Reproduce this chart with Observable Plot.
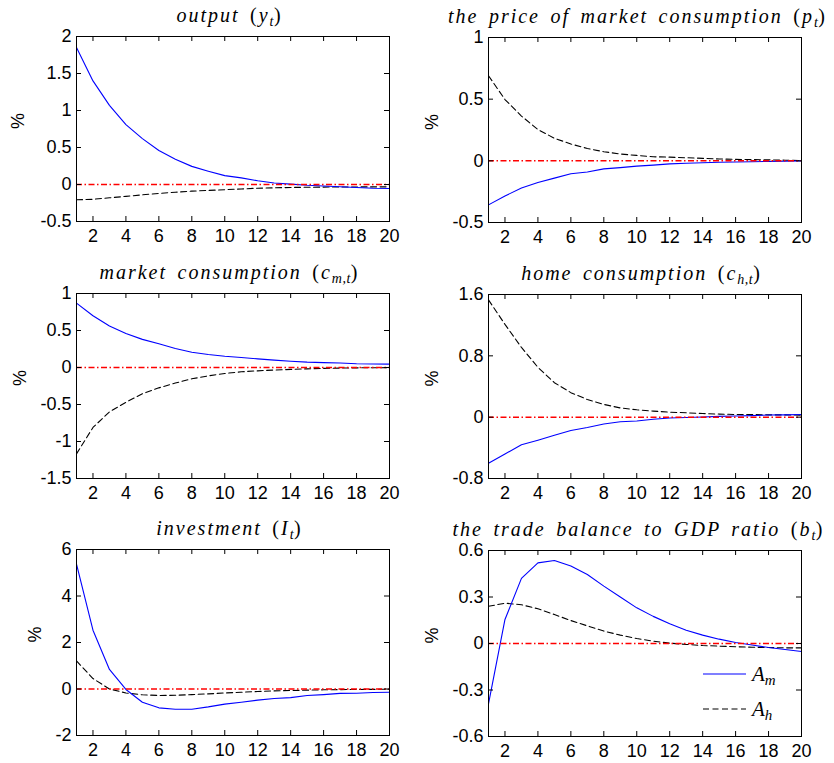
<!DOCTYPE html>
<html><head><meta charset="utf-8">
<script src="https://cdn.jsdelivr.net/npm/d3@7"></script>
<script src="https://cdn.jsdelivr.net/npm/@observablehq/plot@0.6"></script>
<style>
body{margin:0;background:#fff;}
#wrap{position:relative;width:834px;height:763px;overflow:hidden;background:#fff;}
.panel{position:absolute;}
.title{position:absolute;font-family:"Liberation Serif",serif;font-style:italic;font-size:20px;line-height:20px;white-space:nowrap;transform:translateX(-50%);letter-spacing:2.0px;word-spacing:3.5px;color:#000;}
.title .up{font-style:normal;}
.title sub{font-size:0.7em;vertical-align:-0.3em;line-height:0;letter-spacing:0.5px;}
.legend{position:absolute;}
</style></head><body><div id="wrap"></div>
<script>
const periods = [1,2,3,4,5,6,7,8,9,10,11,12,13,14,15,16,17,18,19,20];
const xTicks = [2,4,6,8,10,12,14,16,18,20];

// output (y_t)
const outputAm = [1.85,1.40,1.07,0.81,0.62,0.46,0.34,0.245,0.18,0.12,0.09,0.05,0.02,0.005,-0.01,-0.02,-0.03,-0.04,-0.05,-0.055];
const outputAh = [-0.207,-0.20,-0.18,-0.16,-0.14,-0.12,-0.105,-0.09,-0.08,-0.07,-0.06,-0.05,-0.045,-0.04,-0.037,-0.035,-0.034,-0.033,-0.032,-0.032];
// price of market consumption (p_t)
const priceAm = [-0.357,-0.285,-0.22,-0.175,-0.14,-0.105,-0.09,-0.065,-0.055,-0.043,-0.035,-0.025,-0.02,-0.015,-0.012,-0.01,-0.007,-0.005,-0.003,0];
const priceAh = [0.69,0.497,0.363,0.254,0.183,0.137,0.10,0.074,0.055,0.044,0.033,0.03,0.025,0.02,0.015,0.012,0.01,0.008,0.005,0.002];
// market consumption (c_{m,t})
const cmAm = [0.87,0.70,0.56,0.46,0.38,0.32,0.257,0.207,0.176,0.153,0.135,0.117,0.10,0.085,0.072,0.066,0.06,0.05,0.048,0.045];
const cmAh = [-1.167,-0.81,-0.60,-0.47,-0.356,-0.275,-0.21,-0.153,-0.113,-0.081,-0.058,-0.045,-0.034,-0.026,-0.018,-0.012,-0.008,-0.005,-0.003,-0.002];
// home consumption (c_{h,t})
const chAm = [-0.60,-0.48,-0.36,-0.30,-0.235,-0.175,-0.135,-0.09,-0.06,-0.05,-0.027,-0.01,-0.005,0.003,0.01,0.016,0.02,0.028,0.03,0.035];
const chAh = [1.53,1.21,0.91,0.65,0.45,0.32,0.23,0.166,0.12,0.096,0.079,0.065,0.057,0.048,0.04,0.035,0.035,0.03,0.03,0.026];
// investment (I_t)
const invAm = [5.37,2.53,0.84,-0.02,-0.57,-0.81,-0.87,-0.87,-0.77,-0.65,-0.57,-0.48,-0.41,-0.37,-0.28,-0.24,-0.19,-0.18,-0.15,-0.14];
const invAh = [1.21,0.45,0.0,-0.17,-0.25,-0.28,-0.27,-0.24,-0.21,-0.17,-0.14,-0.11,-0.08,-0.065,-0.05,-0.035,-0.025,-0.02,-0.015,-0.01];
// trade balance to GDP ratio (b_t)
const tbAm = [-0.39,0.155,0.42,0.52,0.535,0.50,0.445,0.37,0.30,0.23,0.175,0.127,0.086,0.054,0.028,0.006,-0.01,-0.026,-0.039,-0.052];
const tbAh = [0.24,0.26,0.25,0.224,0.187,0.148,0.114,0.08,0.054,0.032,0.015,0.002,-0.006,-0.013,-0.017,-0.021,-0.024,-0.026,-0.028,-0.028];

const panels = [
  {title:'output <span class="up">(</span>y<sub>t</sub><span class="up">)</span>', left:0, frameTop:36, frameH:185, mL:76, mR:28, yDomain:[-0.5,2], yTicks:[-0.5,0,0.5,1,1.5,2], am:outputAm, ah:outputAh, lab:58.5, tdx:-3},
  {title:'the price of market consumption <span class="up">(</span>p<sub>t</sub><span class="up">)</span>', left:417, frameTop:37, frameH:185, mL:71, mR:33, yDomain:[-0.5,1], yTicks:[-0.5,0,0.5,1], am:priceAm, ah:priceAh, lab:56, tdx:-7},
  {title:'market consumption <span class="up">(</span>c<sub>m,t</sub><span class="up">)</span>', left:0, frameTop:293, frameH:185, mL:76, mR:28, yDomain:[-1.5,1], yTicks:[-1.5,-1,-0.5,0,0.5,1], am:cmAm, ah:cmAh, lab:56.5, tdx:-3},
  {title:'home consumption <span class="up">(</span>c<sub>h,t</sub><span class="up">)</span>', left:417, frameTop:294, frameH:184, mL:71, mR:33, yDomain:[-0.8,1.6], yTicks:[-0.8,0,0.8,1.6], am:chAm, ah:chAh, lab:56, tdx:-3},
  {title:'investment <span class="up">(</span>I<sub>t</sub><span class="up">)</span>', left:0, frameTop:549, frameH:186, mL:76, mR:28, yDomain:[-2,6], yTicks:[-2,0,2,4,6], am:invAm, ah:invAh, lab:41, tdx:-3},
  {title:'the trade balance to GDP ratio <span class="up">(</span>b<sub>t</sub><span class="up">)</span>', left:417, frameTop:550, frameH:186, mL:71, mR:33, yDomain:[-0.6,0.6], yTicks:[-0.6,-0.3,0,0.3,0.6], am:tbAm, ah:tbAh, lab:56, tdx:-6}
];

const wrap = document.getElementById("wrap");
const W = 417, mT = 5, mB = 32;
for (const c of panels) {
  const fw = W - c.mL - c.mR;
  const rowsAm = periods.map((t,i)=>({t, v:c.am[i]}));
  const rowsAh = periods.map((t,i)=>({t, v:c.ah[i]}));
  const svg = Plot.plot({
    width: W, height: c.frameH + mT + mB,
    marginLeft: c.mL, marginRight: c.mR, marginTop: mT, marginBottom: mB,
    style: {fontFamily: '"Liberation Sans", Arial, sans-serif', fontSize: "18px", color: "#000", background: "transparent", overflow: "visible"},
    x: {domain:[1,20], ticks: xTicks, tickFormat: d=>String(d), tickSize: 0, tickPadding: 8, label: null},
    y: {domain: c.yDomain, ticks: c.yTicks, tickFormat: d=>String(d), tickSize: 0, tickPadding: 5, label: null},
    marks: [
      Plot.line(rowsAh, {x:"t", y:"v", stroke:"#000000", strokeWidth:1.1, strokeDasharray:"6,3.5"}),
      Plot.line(rowsAm, {x:"t", y:"v", stroke:"#0000ff", strokeWidth:1.1}),
      Plot.ruleY([0], {stroke:"#ff0000", strokeWidth:1.5, strokeDasharray:"6,2.5,1.5,2.5"}),
      Plot.tickX(xTicks, {x:d=>d, insetTop: c.frameH-5, stroke:"#000000"}),
      Plot.tickX(xTicks, {x:d=>d, insetBottom: c.frameH-5, stroke:"#000000"}),
      Plot.tickY(c.yTicks, {y:d=>d, insetRight: fw-5, stroke:"#000000"}),
      Plot.tickY(c.yTicks, {y:d=>d, insetLeft: fw-5, stroke:"#000000"}),
      Plot.frame({stroke:"#000000", strokeWidth:1}),
      Plot.text(["%"], {text:d=>d, frameAnchor:"left", dx:-c.lab, rotate:-90, fontSize:18, fill:"#000000"})
    ]
  });
  const div = document.createElement("div");
  div.className = "panel";
  div.style.left = c.left + "px";
  div.style.top = (c.frameTop - mT) + "px";
  div.appendChild(svg);
  wrap.appendChild(div);
  const t = document.createElement("div");
  t.className = "title";
  t.innerHTML = c.title;
  t.style.left = (c.left + c.mL + fw/2 + c.tdx) + "px";
  t.style.top = (c.frameTop - 31) + "px";
  wrap.appendChild(t);
}

// legend (in the trade balance panel)
const leg = document.createElement("div");
leg.className = "legend";
leg.style.left = "700px"; leg.style.top = "658px";
leg.innerHTML = `<svg width="110" height="66" style="overflow:visible">
<line x1="3" x2="46" y1="16" y2="16" stroke="#0000ff" stroke-width="1.1"/>
<line x1="3" x2="46" y1="51" y2="51" stroke="#000000" stroke-width="1.1" stroke-dasharray="6,3.5"/>
<text x="52" y="23" font-family="Liberation Serif" font-style="italic" font-size="21">A<tspan font-size="15" dy="4">m</tspan></text>
<text x="52" y="58" font-family="Liberation Serif" font-style="italic" font-size="21">A<tspan font-size="15" dy="4">h</tspan></text>
</svg>`;
wrap.appendChild(leg);
</script></body></html>
